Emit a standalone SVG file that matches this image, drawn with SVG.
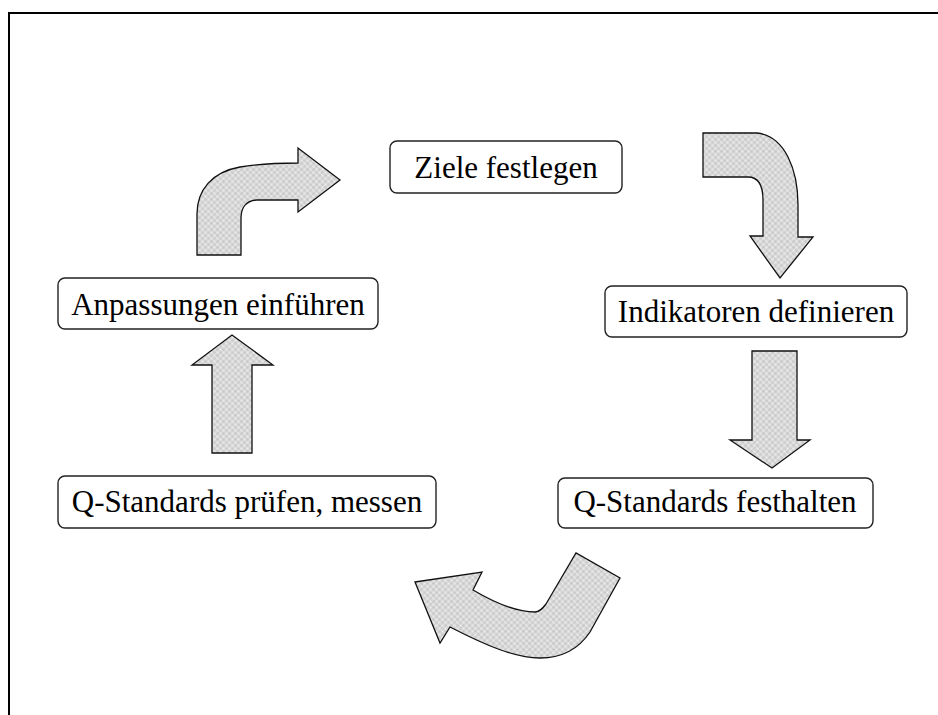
<svg xmlns="http://www.w3.org/2000/svg" width="938" height="715" viewBox="0 0 938 715">
<style>
.box{fill:#fff;stroke:#222;stroke-width:1.4}
.lbl{font-family:"Liberation Serif","Times New Roman",serif;font-size:31px;fill:#000;text-anchor:middle}
.arr{fill:url(#tex);stroke:#111;stroke-width:1.3;stroke-linejoin:miter}
</style>
<defs>
<pattern id="tex" width="6" height="6" patternUnits="userSpaceOnUse">
<rect width="6" height="6" fill="#dcdcdc"/>
<circle cx="1.5" cy="1.5" r="1.3" fill="#c8c8c8"/>
<circle cx="4.5" cy="4.5" r="1.3" fill="#cbcbcb"/>
<circle cx="4.5" cy="1.5" r="0.8" fill="#eeeeee"/>
<circle cx="1.5" cy="4.5" r="0.8" fill="#eeeeee"/>
</pattern>
</defs>
<path d="M9,715 L9,13 L938,13" fill="none" stroke="#000" stroke-width="2"/>
<g id="connectors">
<path id="a1" class="arr" d="M197,255 L197,214 C197,190 212,172 240,167 C258,164 275,163 298,163 L298,148 L340,180 L298,212 L298,200 L256,200 C246,201 241,208 241,218 L241,255 Z"/>
<path id="a2" class="arr" d="M703,133 L757,133 C785,136 798,170 798,205 L798,237 L813,237 L780,278 L750,236 L763,236 L763,200 C763,187 760,177 748,177 L703,177 Z"/>
<path id="a3" class="arr" d="M752,351 L797,351 L797,440 L810,440 L772,468 L730,440 L752,440 Z"/>
<path id="a4" class="arr" d="M212,453 L212,365 L192,365 L232,335 L273,365 L252,365 L252,453 Z"/>
<path id="a5" class="arr" d="M415,582 L482,572 L473,590 C495,603 515,612 535,612 C540,612 543,608 546,604 L576,553 L620,578 L590,632 C578,650 560,658 540,658 C515,658 485,645 450,627 L440,643 Z"/>
</g>
<g id="n1"><rect class="box" x="390" y="141" width="232" height="52" rx="7"/><text class="lbl" x="506" y="178">Ziele festlegen</text></g>
<g id="n2"><rect class="box" x="605" y="286" width="302" height="51" rx="7"/><text class="lbl" x="756" y="322">Indikatoren definieren</text></g>
<g id="n3"><rect class="box" x="558" y="478" width="315" height="50" rx="7"/><text class="lbl" x="715" y="512">Q-Standards festhalten</text></g>
<g id="n4"><rect class="box" x="58" y="476" width="378" height="52" rx="7"/><text class="lbl" x="247" y="512">Q-Standards prüfen, messen</text></g>
<g id="n5"><rect class="box" x="58" y="278" width="320" height="51" rx="7"/><text class="lbl" x="218" y="315">Anpassungen einführen</text></g>
</svg>
